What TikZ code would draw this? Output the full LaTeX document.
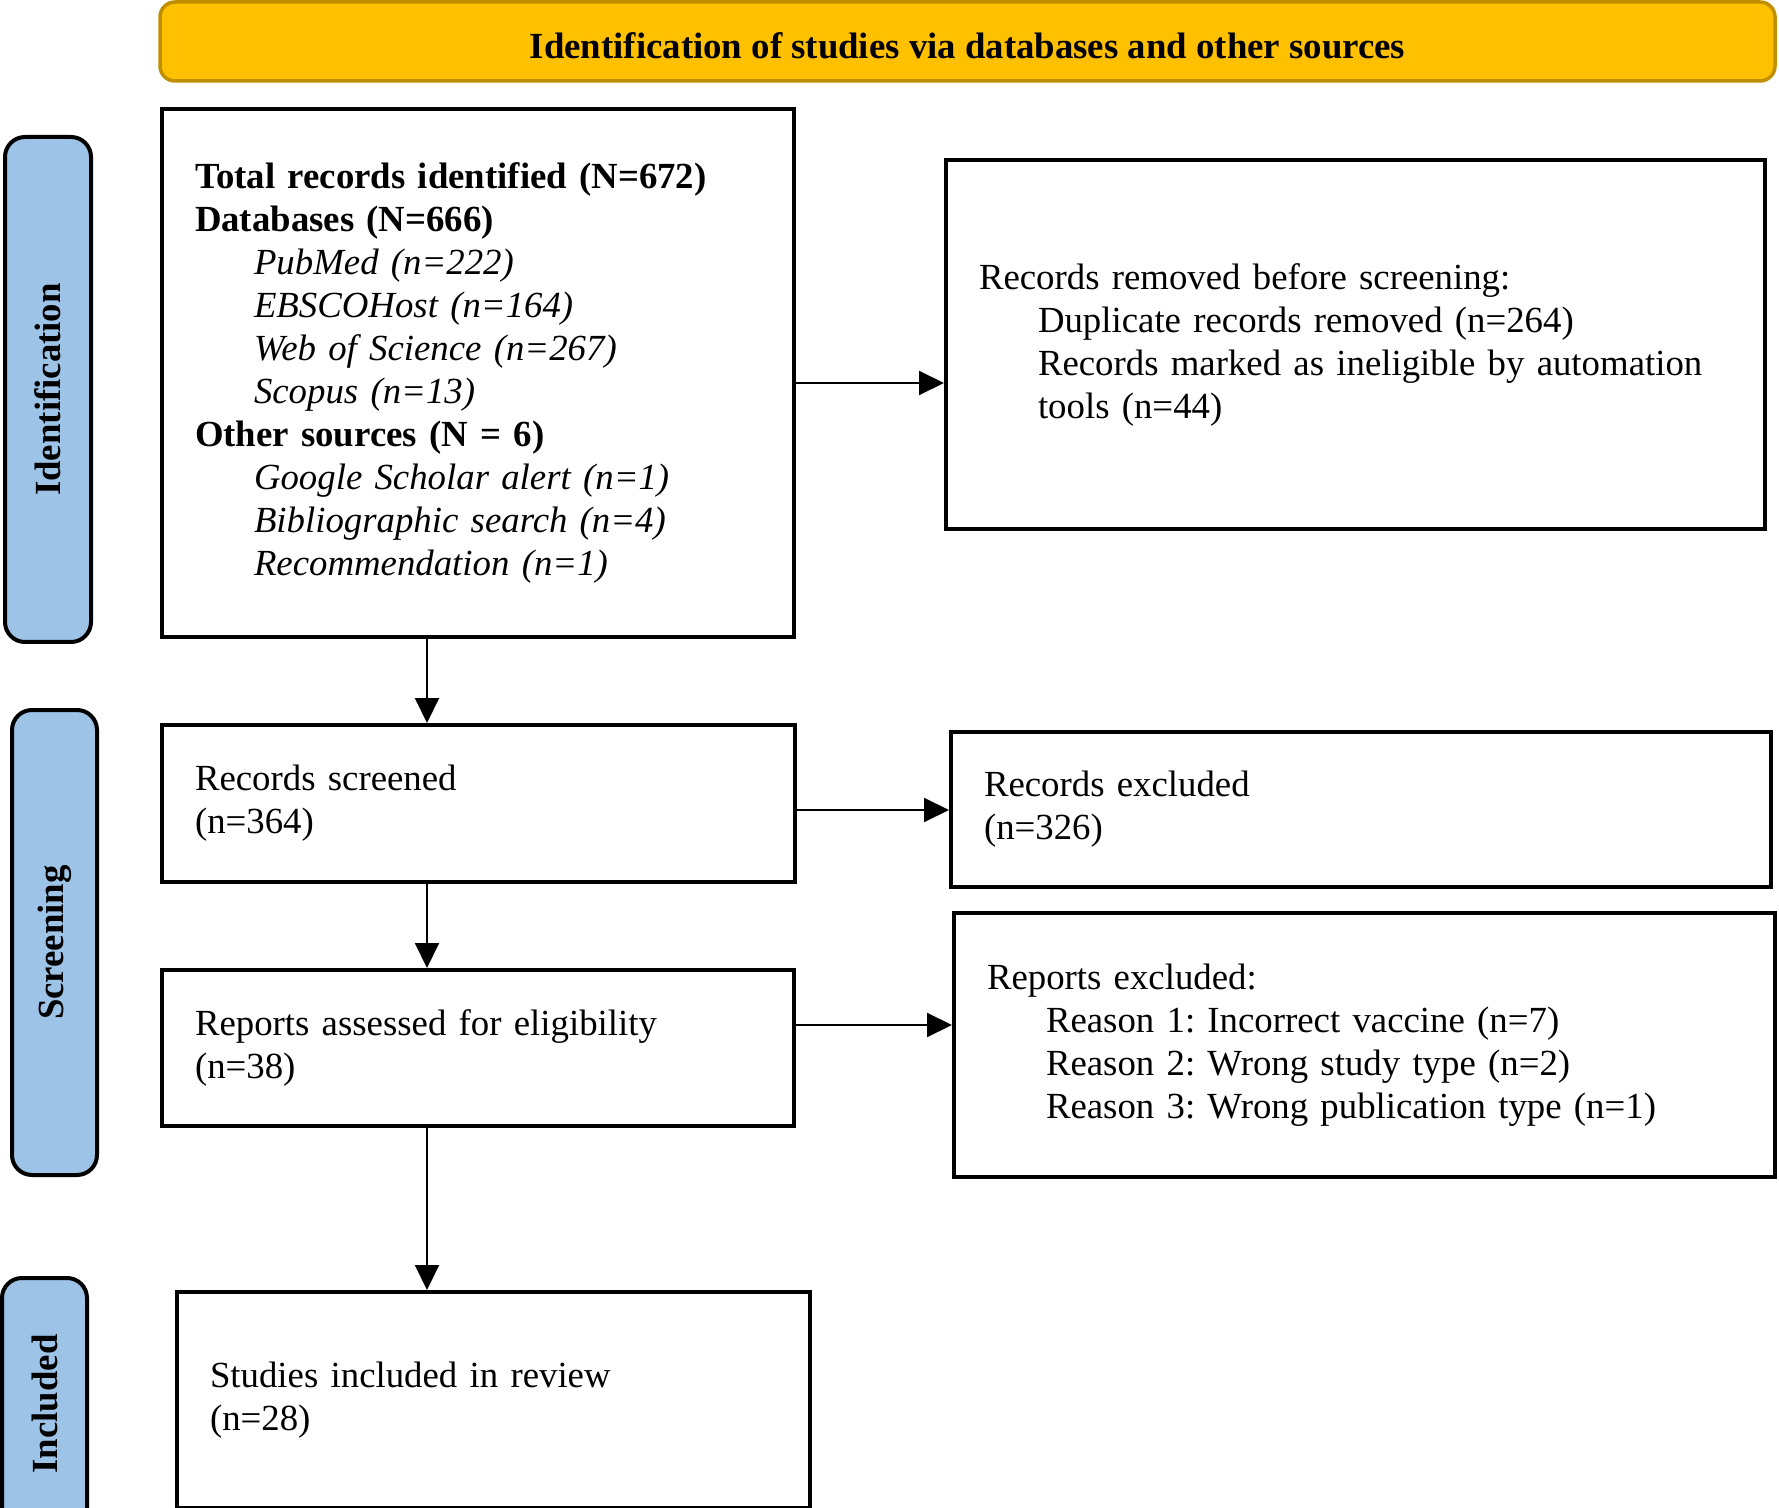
\documentclass[tikz,border=0pt]{standalone}
\usepackage{fontspec}
\setmainfont{Liberation Serif}
\usetikzlibrary{arrows.meta}
\definecolor{headfill}{HTML}{FFC000}
\definecolor{headline}{HTML}{BF8F00}
\definecolor{stagefill}{HTML}{9DC3E6}
\newcommand{\fsz}{\fontsize{18.4}{21.5}\selectfont\frenchspacing}
\newcommand{\ind}{\hspace*{29.5pt}}
\tikzset{
  box/.style={draw, line width=2pt, anchor=north west, align=left, inner xsep=16.5pt, inner ysep=0pt, font=\fsz},
  stage/.style={draw, line width=2pt, fill=stagefill, rounded corners=10pt, rotate=90, font={\fsz\bfseries}},
  arr/.style={line width=1pt, -{Triangle[length=12.5pt,width=12pt]}}
}
\begin{document}
\begin{tikzpicture}[x=0.5pt, y=-0.5pt]
  \useasboundingbox (0,0) rectangle (1779,1508);
  % heading
  \node[draw=headline, line width=1.75pt, fill=headfill, rounded corners=7.5pt, minimum width=807.5pt, minimum height=39.5pt, font={\fsz\bfseries}] (head) at (967.5,41.5) {\raisebox{-2.25pt}[\height][\depth]{Identification of studies via databases and other sources}};
  % stages
  \node[stage, minimum width=252.5pt, minimum height=43pt] (idlab) at (48,389.5) {Identification};
  \node[stage, minimum width=232.5pt, minimum height=42.5pt] (scrlab) at (54.5,942.5) {Screening};
  \node[stage, minimum width=126pt, minimum height=42.5pt] (inclab) at (44.5,1404) {Included};
  % boxes
  \node[box, text width=283pt, minimum height=264pt] (total) at (160,107) {%
    \textbf{Total records identified (N=672)}\\
    \textbf{Databases (N=666)}\\
    \ind\textit{PubMed (n=222)}\\
    \ind\textit{EBSCOHost (n=164)}\\
    \ind\textit{Web of Science (n=267)}\\
    \ind\textit{Scopus (n=13)}\\
    \textbf{Other sources (N = 6)}\\
    \ind\textit{Google Scholar alert (n=1)}\\
    \ind\textit{Bibliographic search (n=4)}\\
    \ind\textit{Recommendation (n=1)}};
  \node[box, text width=376.5pt, minimum height=184.5pt] (removed) at (944,158) {%
    Records removed before screening:\\
    \ind Duplicate records removed (n=264)\\
    \ind Records marked as ineligible by automation\\
    \ind tools (n=44)};
  \node[box, text width=283.5pt, minimum height=78.5pt] (screened) at (160,723) {Records screened\\(n=364)};
  \node[box, text width=377pt, minimum height=77.5pt] (excluded) at (949,730) {Records excluded\\(n=326)};
  \node[box, text width=283pt, minimum height=78pt] (assessed) at (160,968) {Reports assessed for eligibility\\(n=38)};
  \node[box, text width=377.5pt, minimum height=132pt] (repexcl) at (952,911) {%
    Reports excluded:\\
    \ind Reason 1: Incorrect vaccine (n=7)\\
    \ind Reason 2: Wrong study type (n=2)\\
    \ind Reason 3: Wrong publication type (n=1)};
  \node[box, text width=283.5pt, minimum height=108pt] (studies) at (175,1290) {Studies included in review\\(n=28)};
  % arrows
  \coordinate (ax) at (427,0);
  \coordinate (ay1) at (0,383);
  \coordinate (ay2) at (0,810);
  \coordinate (ay3) at (0,1025);
  \draw[arr] (total.south -| ax) -- (screened.north -| ax);
  \draw[arr] (screened.south -| ax) -- (assessed.north -| ax);
  \draw[arr] (assessed.south -| ax) -- (studies.north -| ax);
  \draw[arr] (total.east |- ay1) -- (removed.west |- ay1);
  \draw[arr] (screened.east |- ay2) -- (excluded.west |- ay2);
  \draw[arr] (assessed.east |- ay3) -- (repexcl.west |- ay3);
\end{tikzpicture}
\end{document}
